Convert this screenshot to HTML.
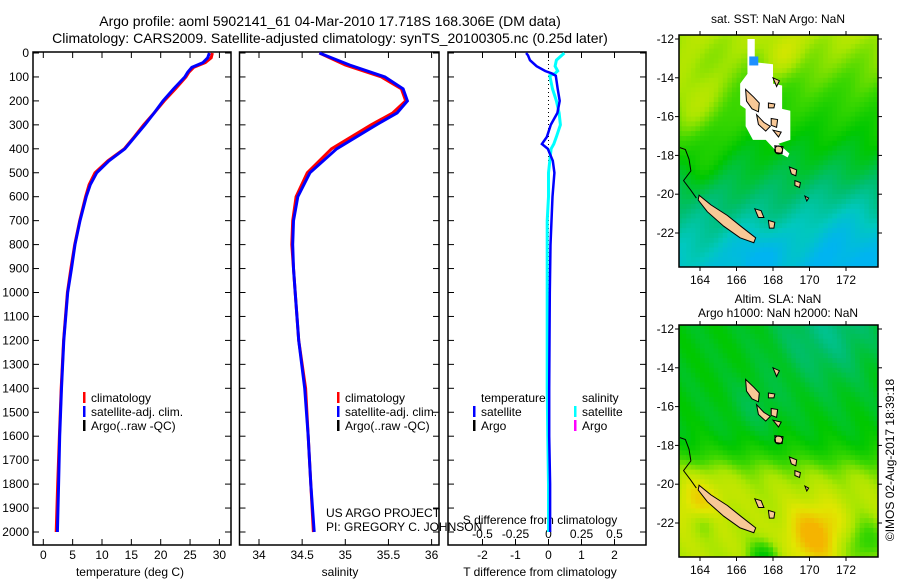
<!DOCTYPE html>
<html><head><meta charset="utf-8"><style>
html,body{margin:0;padding:0;background:#fff;}
svg{display:block;font-family:"Liberation Sans",sans-serif;}
</style></head><body>
<svg id="fig" width="900" height="580" viewBox="0 0 900 580" xmlns="http://www.w3.org/2000/svg"></svg>
<script>
// ---- data ----
const depthT = [0,20,40,60,80,100,150,200,250,300,350,400,450,500,550,600,700,800,900,1000,1200,1400,1600,1800,2000];
const tempSat = [28.3,28.0,27.2,25.3,24.6,24.1,22.2,20.4,18.9,17.3,15.6,13.9,11.2,9.1,8.0,7.3,6.25,5.4,4.8,4.15,3.5,3.1,2.8,2.6,2.4];
const tempClim = [28.8,28.6,27.6,25.6,24.8,24.3,22.5,20.6,18.9,17.1,15.5,13.8,11.0,8.8,7.8,7.2,6.2,5.35,4.7,4.1,3.45,3.05,2.75,2.45,2.2];
const depthS = [0,50,100,150,200,250,300,400,500,600,700,800,900,1000,1200,1400,1600,1800,2000];
const salSat = [34.7,35.05,35.46,35.67,35.72,35.6,35.36,34.9,34.59,34.45,34.4,34.39,34.4,34.42,34.46,34.53,34.57,34.6,34.64];
const salClim = [34.7,35.0,35.42,35.65,35.7,35.55,35.3,34.84,34.56,34.43,34.39,34.38,34.4,34.42,34.46,34.54,34.57,34.6,34.63];
const depthD = [0,10,30,55,75,85,95,150,200,250,300,350,380,400,450,500,600,700,800,1000,1200,1400,1600,1800,2000];
const tDiff = [-0.68,-0.62,-0.56,-0.36,-0.1,0.1,0.22,0.28,0.34,0.27,0.07,-0.05,-0.2,-0.02,0.13,0.18,0.12,0.09,0.06,0.04,0.03,0.02,0.02,0.05,0.05];
const sDiff = [0.12,0.1,0.06,0.05,0.07,0.05,0.01,0.03,0.06,0.08,0.09,0.06,0.04,0.02,0.01,0.0,0.0,-0.01,-0.01,-0.01,-0.01,-0.01,-0.005,0.0,0.0];
const depthTicks = [0,100,200,300,400,500,600,700,800,900,1000,1100,1200,1300,1400,1500,1600,1700,1800,1900,2000];
const tempTicks = [0,5,10,15,20,25,30];
const salTicks = [34,34.5,35,35.5,36];
const tdTicks = [-2,-1,0,1,2];
const sdTicks = [-0.5,-0.25,0,0.25,0.5];
const lonTicks = [164,166,168,170,172];
const latTicks = [12,14,16,18,20,22];

const NS='http://www.w3.org/2000/svg';
const svg=document.getElementById('fig');
function el(tag,attrs,parent){const e=document.createElementNS(NS,tag);for(const k in attrs)e.setAttribute(k,attrs[k]);(parent||svg).appendChild(e);return e;}
function txt(x,y,s,anchor,size,parent,name){const t=el('text',{x:x,y:y,'text-anchor':anchor||'start','font-size':size||12,fill:'#000'},parent);t.textContent=s;


return t;}

const Y=d=>53+d*0.2395;
const X1=v=>43.3+v*5.87;
const X2=v=>259+(v-34)*86.3;
const X3T=v=>548.5+v*33;
const X3S=v=>548.5+v*132;
const TOP=52,BOT=545;

txt(330,26,'Argo profile: aoml 5902141_61 04-Mar-2010 17.718S 168.306E (DM data)','middle',14,null,'title-line-1');
txt(330,43,'Climatology: CARS2009. Satellite-adjusted climatology: synTS_20100305.nc (0.25d later)','middle',14,null,'title-line-2');

function frame(x0,x1,name){const g=el('g',{});
el('rect',{x:x0,y:TOP,width:x1-x0,height:BOT-TOP,fill:'#fff',stroke:'#000','stroke-width':1.5},g);return g;}
frame(33,231,'temperature-panel');
frame(239.5,439,'salinity-panel');
frame(448,646,'difference-panel');

depthTicks.forEach(d=>{const y=Y(d);
 [[33,231],[239.5,439],[448,646]].forEach(([a,b])=>{el('line',{x1:a,y1:y,x2:a+6,y2:y,stroke:'#000'});el('line',{x1:b,y1:y,x2:b-6,y2:y,stroke:'#000'});});
 txt(29,y+4,String(d),'end',12,null,'depth-tick-label');});
txt(130,576,'temperature (deg C)','middle',12,null,'x-axis-title-temperature');
tempTicks.forEach(v=>{const x=X1(v);el('line',{x1:x,y1:BOT,x2:x,y2:BOT-6,stroke:'#000'});el('line',{x1:x,y1:TOP,x2:x,y2:TOP+6,stroke:'#000'});txt(x,559,String(v),'middle',12,null,'temperature-tick-label');});
txt(340,576,'salinity','middle',12,null,'x-axis-title-salinity');
salTicks.forEach(v=>{const x=X2(v);el('line',{x1:x,y1:BOT,x2:x,y2:BOT-6,stroke:'#000'});el('line',{x1:x,y1:TOP,x2:x,y2:TOP+6,stroke:'#000'});txt(x,559,String(v),'middle',12,null,'salinity-tick-label');});
tdTicks.forEach(v=>{const x=X3T(v);el('line',{x1:x,y1:BOT,x2:x,y2:BOT-6,stroke:'#000'});el('line',{x1:x,y1:TOP,x2:x,y2:TOP+6,stroke:'#000'});txt(x,559,String(v),'middle',12,null,'t-diff-tick-label');});
sdTicks.forEach(v=>{txt(X3S(v),538,String(v),'middle',12,null,'s-diff-tick-label');});
txt(540,576,'T difference from climatology','middle',12,null,'x-axis-title-t-diff');
txt(540,524,'S difference from climatology','middle',12,null,'x-axis-title-s-diff');

el('line',{x1:X3T(0),y1:TOP,x2:X3T(0),y2:Y(2000),stroke:'#000','stroke-dasharray':'1,3'});

function line(xs,ds,fx,color,w,name){const pts=xs.map((v,i)=>fx(v).toFixed(1)+','+Y(ds[i]).toFixed(1)).join(' ');
 const p=el('polyline',{points:pts,fill:'none',stroke:color,'stroke-width':w});
 
 }
line(tempClim,depthT,X1,'#f00',3,'temperature-climatology-line');
line(tempSat,depthT,X1,'#00f',3,'temperature-satellite-line');
line(salClim,depthS,X2,'#f00',3,'salinity-climatology-line');
line(salSat,depthS,X2,'#00f',3,'salinity-satellite-line');
line(sDiff,depthD,X3S,'#0ff',3,'salinity-diff-satellite-line');
line(tDiff,depthD,X3T,'#00f',2.5,'temperature-diff-satellite-line');

function leg(x,y,color,label,name){el('rect',{x:x,y:y-10,width:2.5,height:11,fill:color});txt(x+8,y,label,'start',12,null,name);}
leg(83,402,'#f00','climatology','legend-climatology');
leg(83,416,'#00f','satellite-adj. clim.','legend-satellite-adj');
leg(83,430,'#000','Argo(..raw -QC)','legend-argo');
leg(337,402,'#f00','climatology','legend2-climatology');
leg(337,416,'#00f','satellite-adj. clim.','legend2-satellite-adj');
leg(337,430,'#000','Argo(..raw -QC)','legend2-argo');
txt(481,402,'temperature','start',12,null,'legend3-temperature-heading');
leg(473,416,'#00f','satellite','legend3-t-satellite');
leg(473,430,'#000','Argo','legend3-t-argo');
txt(582,402,'salinity','start',12,null,'legend3-salinity-heading');
leg(574,416,'#0ff','satellite','legend3-s-satellite');
leg(574,430,'#f0f','Argo','legend3-s-argo');
txt(326,517,'US ARGO PROJECT','start',12,null,'project-credit');
txt(326,531,'PI: GREGORY C. JOHNSON','start',12,null,'pi-credit');

// ---- maps ----
const stops=[[0.18,[0,180,240]],[0.28,[0,200,190]],[0.38,[0,190,110]],[0.5,[0,200,0]],[0.6,[60,215,0]],[0.7,[170,230,0]],[0.8,[225,230,0]],[0.9,[245,180,0]]];
function cmap(v){if(v<=stops[0][0])return stops[0][1];for(let i=1;i<stops.length;i++){if(v<=stops[i][0]){const [a,ca]=stops[i-1],[b,cb]=stops[i];const t=(v-a)/(b-a);return ca.map((c,k)=>Math.round(c+(cb[k]-c)*t));}}return stops[stops.length-1][1];}
const g=(lo,la,clo,cla,s)=>Math.exp(-((lo-clo)**2+(la-cla)**2)/(2*s*s));
const sig=x=>1/(1+Math.exp(-x));
function f1(lo,la){return 0.7-(la-12)*0.038+0.14*g(lo,la,163.5,15.5,1.5)+0.08*g(lo,la,168.5,12.8,0.8)-0.1*g(lo,la,172,22.5,2)-0.1*g(lo,la,167,23,1)+0.06*g(lo,la,164,18.5,0.8)+0.02*Math.sin(lo*2.3+la*1.7);}
function f2(lo,la){return 0.48+0.24*sig((la-18.8)*2)-0.12*g(lo,la,171,12,2)+0.2*g(lo,la,170.3,22.6,1.1)+0.12*g(lo,la,164,20.8,1)-0.22*g(lo,la,167.5,23.8,0.6)-0.15*g(lo,la,173,23,0.8)-0.05*g(lo,la,167,16,1)-0.08*g(lo,la,164.3,22,0.5)+0.02*Math.sin(lo*2.7-la*1.9);}
const whiteZone=[[166.6,12],[167.0,12],[167.0,13.2],[168.0,13.3],[168.0,14.3],[168.5,14.4],[168.5,15.6],[168.95,15.7],[168.95,17.2],[168.3,17.4],[168.9,17.9],[168.8,18.1],[168.2,17.8],[167.6,17.2],[166.9,17.2],[166.5,16.5],[166.5,15.6],[166.2,15.4],[166.2,14.3],[166.6,13.8]];
const islands=[
 [[163.95,20.05],[164.6,20.55],[165.5,21.1],[166.3,21.7],[167.05,22.25],[166.95,22.5],[166.2,22.25],[165.3,21.65],[164.4,20.9],[163.9,20.3]],
 [[166.5,14.6],[166.95,15.0],[167.25,15.3],[167.2,15.75],[166.85,15.6],[166.55,15.2]],
 [[167.1,15.9],[167.5,16.3],[167.85,16.5],[167.6,16.75],[167.2,16.4]],
 [[168.1,17.5],[168.55,17.55],[168.5,17.9],[168.15,17.85]],
 [[167.9,16.1],[168.25,16.15],[168.2,16.55],[167.9,16.45]],
 [[168.0,16.7],[168.45,16.8],[168.3,17.05]],
 [[167.75,15.3],[168.1,15.35],[168.05,15.55],[167.75,15.55]],
 [[168.9,18.6],[169.3,18.75],[169.25,19.05],[169.0,18.95]],
 [[169.2,19.3],[169.5,19.4],[169.45,19.65],[169.2,19.55]],
 [[167.0,20.75],[167.35,20.85],[167.5,21.2],[167.2,21.2]],
 [[167.75,21.35],[168.1,21.45],[168.05,21.75],[167.8,21.75]],
 [[168.0,14.0],[168.35,14.15],[168.2,14.45]],
 [[169.75,20.1],[169.95,20.2],[169.85,20.35]]
];
function drawMap(y0,fn,white,name){
 const gm=el('g',{});
 const LX=lo=>700+(lo-164)*18.25, LY=la=>y0+4+(la-12)*19.4;
 const x0=679,x1=878,yb=y0+232;
 const cp=el('clipPath',{id:'c'+y0},gm);
 el('rect',{x:x0,y:y0,width:x1-x0,height:yb-y0},cp);
 const inner=el('g',{'clip-path':'url(#c'+y0+')'},gm);
 const step=0.25;
 for(let lo=162.75;lo<174;lo+=step)for(let la=11.5;la<24.2;la+=step){
  const c=cmap(fn(lo+step/2,la+step/2));
  el('rect',{x:LX(lo).toFixed(1),y:LY(la).toFixed(1),width:(step*18.25+0.6).toFixed(1),height:(step*19.4+0.6).toFixed(1),fill:'rgb('+c.join(',')+')'},inner);}
 if(white){el('polygon',{points:whiteZone.map(p=>LX(p[0])+','+LY(p[1])).join(' '),fill:'#fff'},inner);
  el('rect',{x:LX(166.7),y:LY(12.9),width:9,height:9,fill:'#1e90ff'},inner);}
 el('polyline',{points:[[162.9,17.6],[163.2,17.7],[163.4,18.2],[163.5,18.8],[163.1,19.3],[163.5,19.8],[163.8,20.2]].map(p=>LX(p[0])+','+LY(p[1])).join(' '),fill:'none',stroke:'#000','stroke-width':1},inner);
 islands.forEach(is=>el('polygon',{points:is.map(p=>LX(p[0]).toFixed(1)+','+LY(p[1]).toFixed(1)).join(' '),fill:'#f8c896',stroke:'#000','stroke-width':1},inner));
 el('circle',{cx:LX(168.306),cy:LY(17.718),r:4,fill:'none',stroke:'#000','stroke-width':1},inner);
 el('rect',{x:x0,y:y0,width:x1-x0,height:yb-y0,fill:'none',stroke:'#000','stroke-width':1.5},gm);
 lonTicks.forEach(v=>{const x=LX(v);el('line',{x1:x,y1:y0,x2:x,y2:y0-4,stroke:'#000'},gm);el('line',{x1:x,y1:yb,x2:x,y2:yb+4,stroke:'#000'},gm);txt(x,yb+17,String(v),'middle',12,gm,'longitude-tick-label');});
 latTicks.forEach(v=>{const y=LY(v);el('line',{x1:x0,y1:y,x2:x0-4,y2:y,stroke:'#000'},gm);el('line',{x1:x1,y1:y,x2:x1+4,y2:y,stroke:'#000'},gm);txt(674,y+4,'-'+v,'end',12,gm,'latitude-tick-label');});
}
drawMap(35,f1,true,'sst-map');
drawMap(325,f2,false,'sla-map');
txt(778,23,'sat. SST: NaN Argo: NaN','middle',12,null,'sst-map-title');
txt(778,303,'Altim. SLA: NaN','middle',12,null,'sla-map-title');
txt(778,317,'Argo h1000: NaN h2000: NaN','middle',12,null,'sla-map-subtitle');
const cr=txt(0,0,'\u00a9IMOS 02-Aug-2017 18:39:18','middle',12,null,'imos-credit');
cr.setAttribute('transform','translate(894,460) rotate(-90)');
</script>
</body></html>
